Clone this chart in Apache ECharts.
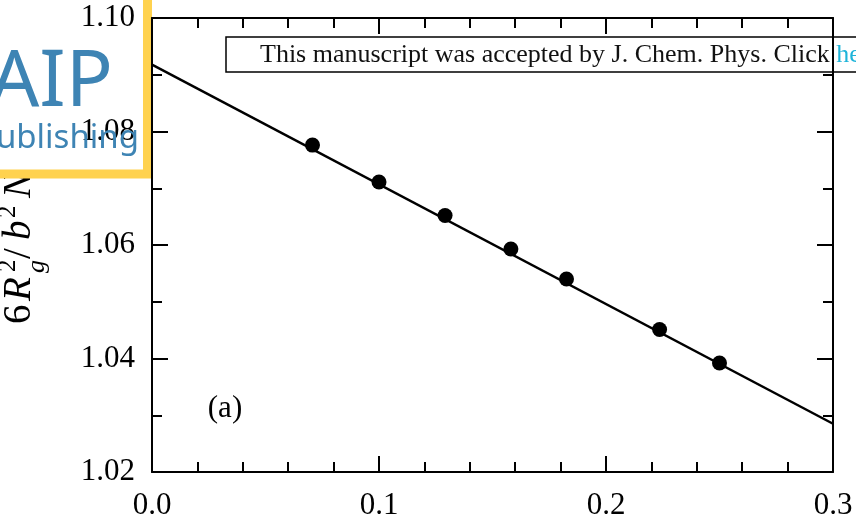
<!DOCTYPE html>
<html>
<head>
<meta charset="utf-8">
<script src="https://cdn.jsdelivr.net/npm/echarts@6/dist/echarts.min.js"></script>
<style>
  html, body { margin: 0; padding: 0; background: #fff; }
  #chart { width: 856px; height: 521px; }
</style>
</head>
<body>
<div id="chart"></div>
<script>
// Chain sizes N and the measured 6Rg^2/(b^2 N); x = 1/sqrt(N)
const chainLengths = [200, 100, 60, 40, 30, 20, 16];
const invSqrtN = [0.0707, 0.1000, 0.1291, 0.1581, 0.1826, 0.2236, 0.2500];
const ratioValues = [1.0776, 1.0711, 1.0652, 1.0593, 1.0540, 1.0451, 1.0392];

// Linear fit drawn across the full x range
const fitX = [0.0, 0.3];
const fitY = [1.0918, 1.0285];

// Tick labels
const xTicks = ['0.0', '0.1', '0.2', '0.3'];
const yTicks = ['1.02', '1.04', '1.06', '1.08', '1.10'];

const serif = '"Liberation Serif", "Times New Roman", serif';
const black = '#000';

const points = invSqrtN.map((x, i) => [x, ratioValues[i]]);
const fitLine = fitX.map((x, i) => [x, fitY[i]]);

function axisBase(extra, minorSplit) {
  return Object.assign({
    type: 'value',
    axisLine: { show: true, onZero: false, lineStyle: { color: black, width: 2 } },
    axisTick: { show: true, inside: true, length: 16, lineStyle: { color: black, width: 2 } },
    minorTick: { show: true, splitNumber: minorSplit, length: 10, lineStyle: { color: black, width: 2 } },
    splitLine: { show: false },
    minorSplitLine: { show: false }
  }, extra);
}

const xBase = { min: 0, max: 0.3, interval: 0.1 };
const yBase = { min: 1.02, max: 1.10, interval: 0.02 };

const chart = echarts.init(document.getElementById('chart'), null, { renderer: 'canvas' });

const option = {
  animation: false,
  backgroundColor: '#fff',
  grid: { left: 152, right: 23, top: 18, bottom: 49 },
  xAxis: [
    axisBase(Object.assign({}, xBase, {
      position: 'bottom',
      axisLabel: {
        fontFamily: serif, fontSize: 31, color: black, margin: 18,
        formatter: v => xTicks[Math.round(v / 0.1)]
      }
    }), 5),
    axisBase(Object.assign({}, xBase, {
      position: 'top',
      axisLabel: { show: false }
    }), 5)
  ],
  yAxis: [
    axisBase(Object.assign({}, yBase, {
      position: 'left', z: 3,
      axisLabel: {
        fontFamily: serif, fontSize: 31, color: black, margin: 17,
        formatter: v => yTicks[Math.round((v - 1.02) / 0.02)]
      }
    }), 2),
    axisBase(Object.assign({}, yBase, {
      position: 'right',
      axisLabel: { show: false }
    }), 2)
  ],
  series: [
    {
      type: 'line',
      data: fitLine,
      showSymbol: false,
      lineStyle: { color: black, width: 2.5 },
      z: 2,
      silent: true
    },
    {
      type: 'scatter',
      data: points,
      symbol: 'circle',
      symbolSize: 15,
      itemStyle: { color: black, opacity: 1 },
      z: 3
    }
  ],
  graphic: [
    // acceptance banner
    {
      type: 'rect', z: -5,
      shape: { x: 226, y: 37, width: 700, height: 35 },
      style: { fill: '#fff', stroke: black, lineWidth: 1.5 }
    },
    {
      type: 'text', z: -4,
      x: 260, y: 55,
      style: {
        text: 'This manuscript was accepted by J. Chem. Phys. Click {h|here to see the version of record.}',
        font: '26px ' + serif,
        fill: '#111',
        verticalAlign: 'middle',
        rich: { h: { fill: '#1EB4D9', font: '26px ' + serif } }
      }
    },
    // y-axis title: 6 R_g^2 / b^2 N, rotated to read upward
    {
      type: 'group', z: -4,
      x: 34, y: 324, rotation: Math.PI / 2,
      children: [
        { type: 'text', z: -4, x: 0, y: -14, style: { text: '6', font: '39px ' + serif, fill: black, verticalAlign: 'middle' } },
        { type: 'text', z: -4, x: 23, y: -14, style: { text: 'R', font: 'italic 39px ' + serif, fill: black, verticalAlign: 'middle' } },
        { type: 'text', z: -4, x: 51, y: 3, style: { text: 'g', font: 'italic 26px ' + serif, fill: black, verticalAlign: 'middle' } },
        { type: 'text', z: -4, x: 52, y: -26, style: { text: '2', font: '25px ' + serif, fill: black, verticalAlign: 'middle' } },
        { type: 'text', z: -4, x: 65, y: -14, style: { text: '/', font: '39px ' + serif, fill: black, verticalAlign: 'middle' } },
        { type: 'text', z: -4, x: 84, y: -14, style: { text: 'b', font: 'italic 39px ' + serif, fill: black, verticalAlign: 'middle' } },
        { type: 'text', z: -4, x: 106, y: -26, style: { text: '2', font: '25px ' + serif, fill: black, verticalAlign: 'middle' } },
        { type: 'text', z: -4, x: 126, y: -14, style: { text: 'N', font: 'italic 39px ' + serif, fill: black, verticalAlign: 'middle' } }
      ]
    },
    // publisher logo box
    {
      type: 'rect', z: -3,
      shape: { x: -20, y: -20, width: 167.5, height: 194 },
      style: { fill: '#fff', stroke: '#FFD24F', lineWidth: 9 }
    },
    {
      type: 'text', z: 10,
      x: 113, y: 84,
      style: {
        text: 'AIP',
        font: '78px "Noto Sans", "Open Sans", sans-serif',
        fill: '#3E84B4',
        textAlign: 'right', verticalAlign: 'middle'
      }
    },
    {
      type: 'text', z: 10,
      x: 139, y: 139,
      style: {
        text: 'Publishing',
        font: '33px "Noto Sans", "Open Sans", sans-serif',
        fill: '#3E84B4',
        textAlign: 'right', verticalAlign: 'middle'
      }
    },
    // panel tag
    {
      type: 'text', z: 5,
      x: 225, y: 409,
      style: {
        text: '(a)', font: '31px ' + serif, fill: black,
        textAlign: 'center', verticalAlign: 'middle'
      }
    }
  ]
};

chart.setOption(option);
</script>
</body>
</html>
